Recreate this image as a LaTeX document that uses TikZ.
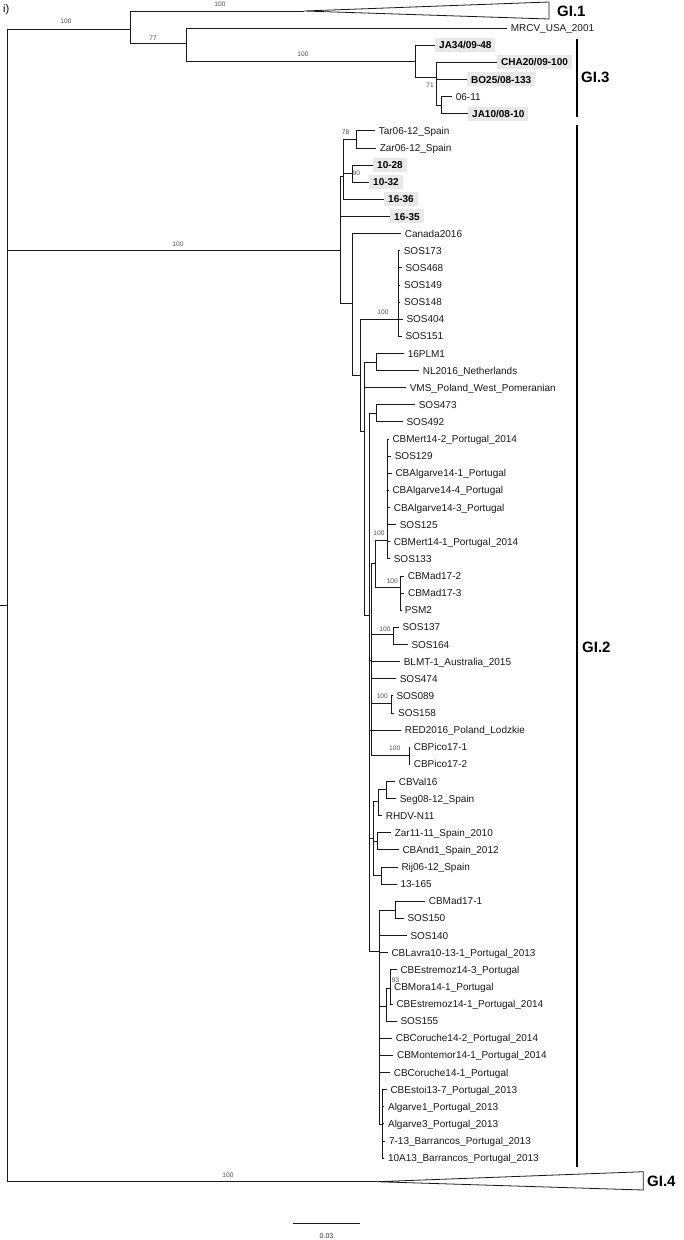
\documentclass[tikz,border=0pt]{standalone}
\usepackage{fontspec}
\setmainfont{Liberation Sans}
\begin{document}
\begin{tikzpicture}[x=1pt,y=-1pt,
  br/.style={line width=0.8pt, draw=black!90},
  bar/.style={line width=1.4pt, draw=black},
  leaf/.style={anchor=west, inner xsep=3.6pt, inner ysep=0pt, font=\fontsize{10}{12}\selectfont, text=black!90, text height=7.2pt, text depth=0pt},
  bleaf/.style={anchor=west, fill=black!9, inner xsep=4pt, inner ysep=3.4pt, font=\fontsize{10}{12}\selectfont\bfseries, text height=7.2pt, text depth=0pt},
  bs/.style={font=\fontsize{6.6}{7}\selectfont, text=black!70, inner sep=0pt},
  grp/.style={font=\fontsize{15}{18}\selectfont\bfseries, anchor=west, inner sep=0pt}]
\useasboundingbox (0,0) rectangle (684,1240);
\node[anchor=north west, inner sep=0pt, font=\fontsize{11}{13}\selectfont] (title) at (3,4) {i)};
% ---------- internal nodes ----------
\coordinate (r0s) at (0,605);
\coordinate (r0) at (7,605);
\coordinate (nA) at (130,29);
\coordinate (g1apex) at (304,11);
\coordinate (g1t) at (549,2);
\coordinate (g1b) at (549,19);
\coordinate (nC) at (186.5,43);
\coordinate (nD) at (415,61);
\coordinate (nE) at (436,77);
\coordinate (nF) at (441,105.5);
\coordinate (G) at (340.7,250);
\coordinate (H) at (343.3,176.7);
\coordinate (J) at (356.7,139.4);
\coordinate (K) at (352.7,173.6);
\coordinate (I) at (352.7,303);
\coordinate (L) at (360,375);
\coordinate (M) at (398.3,319);
\coordinate (P) at (364.3,431.7);
\coordinate (Q) at (376,361.9);
\coordinate (T) at (369,615);
\coordinate (R) at (376.7,413.3);
\coordinate (Z) at (371.7,660);
\coordinate (X) at (375,563);
\coordinate (V) at (387.3,540);
\coordinate (W) at (400.5,587);
\coordinate (Y) at (393.3,634);
\coordinate (S89) at (391.7,703);
\coordinate (CBP) at (409.3,755);
\coordinate (AD) at (373.3,838);
\coordinate (AA) at (378.7,801);
\coordinate (CBV) at (386,789.3);
\coordinate (AE) at (377.7,841.3);
\coordinate (AF) at (381.7,875.6);
\coordinate (AC) at (379,951.7);
\coordinate (AJ) at (395,910);
\coordinate (AG) at (386.7,1006);
\coordinate (AH) at (390,988);
\coordinate (AK) at (382.7,1124);
\coordinate (g4apex) at (376.7,1181.7);
\coordinate (g4t) at (643.3,1171.7);
\coordinate (g4b) at (643.3,1190);
% ---------- leaves ----------
\node[leaf] (mrcv) at (507,28.12) {MRCV\_USA\_2001};
\node[bleaf] (ja34) at (435,45.24) {JA34/09-48};
\node[bleaf] (cha20) at (497,62.36) {CHA20/09-100};
\node[bleaf] (bo25) at (467,79.48) {BO25/08-133};
\node[leaf] (n0611) at (452,96.6) {06-11};
\node[bleaf] (ja10) at (468,113.72) {JA10/08-10};
\node[leaf] (k7) at (375,130.84) {Tar06-12\_Spain};
\node[leaf] (k8) at (376,147.96) {Zar06-12\_Spain};
\node[bleaf] (k9) at (373,165.08) {10-28};
\node[bleaf] (k10) at (369,182.2) {10-32};
\node[bleaf] (k11) at (384,199.32) {16-36};
\node[bleaf] (k12) at (390,216.44) {16-35};
\node[leaf] (k13) at (401,233.56) {Canada2016};
\node[leaf] (k14) at (400,250.68) {SOS173};
\node[leaf] (k15) at (401.7,267.8) {SOS468};
\node[leaf] (k16) at (400.3,284.92) {SOS149};
\node[leaf] (k17) at (400.3,302.04) {SOS148};
\node[leaf] (k18) at (402.7,319.16) {SOS404};
\node[leaf] (k19) at (401.7,336.28) {SOS151};
\node[leaf] (k20) at (404,353.4) {16PLM1};
\node[leaf] (k21) at (419,370.52) {NL2016\_Netherlands};
\node[leaf] (k22) at (406,387.64) {VMS\_Poland\_West\_Pomeranian};
\node[leaf] (k23) at (415,404.76) {SOS473};
\node[leaf] (k24) at (402.7,421.88) {SOS492};
\node[leaf] (k25) at (388.7,439) {CBMert14-2\_Portugal\_2014};
\node[leaf] (k26) at (391,456.12) {SOS129};
\node[leaf] (k27) at (391.7,473.24) {CBAlgarve14-1\_Portugal};
\node[leaf] (k28) at (388.7,490.36) {CBAlgarve14-4\_Portugal};
\node[leaf] (k29) at (390,507.48) {CBAlgarve14-3\_Portugal};
\node[leaf] (k30) at (396,524.6) {SOS125};
\node[leaf] (k31) at (390,541.72) {CBMert14-1\_Portugal\_2014};
\node[leaf] (k32) at (390,558.84) {SOS133};
\node[leaf] (k33) at (404,575.96) {CBMad17-2};
\node[leaf] (k34) at (404.3,593.08) {CBMad17-3};
\node[leaf] (k35) at (401,610.2) {PSM2};
\node[leaf] (k36) at (398.7,627.32) {SOS137};
\node[leaf] (k37) at (407.7,644.44) {SOS164};
\node[leaf] (k38) at (400,661.56) {BLMT-1\_Australia\_2015};
\node[leaf] (k39) at (396,678.68) {SOS474};
\node[leaf] (k40) at (392.7,695.8) {SOS089};
\node[leaf] (k41) at (394.3,712.92) {SOS158};
\node[leaf] (k42) at (401,730.04) {RED2016\_Poland\_Lodzkie};
\node[leaf] (k43) at (410,747.16) {CBPico17-1};
\node[leaf] (k44) at (410,764.28) {CBPico17-2};
\node[leaf] (k45) at (395,781.4) {CBVal16};
\node[leaf] (k46) at (396,798.52) {Seg08-12\_Spain};
\node[leaf] (k47) at (382,815.64) {RHDV-N11};
\node[leaf] (k48) at (391,832.76) {Zar11-11\_Spain\_2010};
\node[leaf] (k49) at (398.7,849.88) {CBAnd1\_Spain\_2012};
\node[leaf] (k50) at (397.7,867) {Rij06-12\_Spain};
\node[leaf] (k51) at (396.7,884.12) {13-165};
\node[leaf] (k52) at (425,901.24) {CBMad17-1};
\node[leaf] (k53) at (403.7,918.36) {SOS150};
\node[leaf] (k54) at (406.7,935.48) {SOS140};
\node[leaf] (k55) at (387.7,952.6) {CBLavra10-13-1\_Portugal\_2013};
\node[leaf] (k56) at (396.7,969.72) {CBEstremoz14-3\_Portugal};
\node[leaf] (k57) at (390.3,986.84) {CBMora14-1\_Portugal};
\node[leaf] (k58) at (392.7,1003.96) {CBEstremoz14-1\_Portugal\_2014};
\node[leaf] (k59) at (396.7,1021.08) {SOS155};
\node[leaf] (k60) at (392,1038.2) {CBCoruche14-2\_Portugal\_2014};
\node[leaf] (k61) at (393.3,1055.32) {CBMontemor14-1\_Portugal\_2014};
\node[leaf] (k62) at (390,1072.44) {CBCoruche14-1\_Portugal};
\node[leaf] (k63) at (386.7,1089.56) {CBEstoi13-7\_Portugal\_2013};
\node[leaf] (k64) at (384.3,1106.68) {Algarve1\_Portugal\_2013};
\node[leaf] (k65) at (384.3,1123.8) {Algarve3\_Portugal\_2013};
\node[leaf] (k66) at (385.3,1140.92) {7-13\_Barrancos\_Portugal\_2013};
\node[leaf] (k67) at (384.3,1158.04) {10A13\_Barrancos\_Portugal\_2013};
% ---------- branches ----------
\draw[br] (r0s) -- (r0);
\draw[br] (r0) |- (nA);
\draw[br] (r0) |- (G);
\draw[br] (r0) |- (g4apex);
\draw[br] (nA) |- (g1apex);
\draw[br] (g1apex) -- (g1t) -- (g1b) -- cycle;
\draw[br] (g4apex) -- (g4t) -- (g4b) -- cycle;
\draw[br] (nA) |- (nC);
\draw[br] (nC) |- (mrcv.west);
\draw[br] (nC) |- (nD);
\draw[br] (nD) |- (ja34.west);
\draw[br] (nD) |- (nE);
\draw[br] (nE) |- (cha20.west);
\draw[br] (nE) |- (bo25.west);
\draw[br] (nE) |- (nF);
\draw[br] (nF) |- (n0611.west);
\draw[br] (nF) |- (ja10.west);
\draw[br] (G) |- (H);
\draw[br] (G) |- (k12.west);
\draw[br] (G) |- (I);
\draw[br] (H) |- (J);
\draw[br] (H) |- (K);
\draw[br] (H) |- (k11.west);
\foreach \c in {k7,k8} \draw[br] (J) |- (\c.west);
\foreach \c in {k9,k10} \draw[br] (K) |- (\c.west);
\draw[br] (I) |- (k13.west);
\draw[br] (I) |- (L);
\draw[br] (L) |- (M);
\draw[br] (L) |- (P);
\foreach \c in {k14,k15,k16,k17,k18,k19} \draw[br] (M) |- (\c.west);
\draw[br] (P) |- (Q);
\draw[br] (P) |- (k22.west);
\draw[br] (P) |- (T);
\foreach \c in {k20,k21} \draw[br] (Q) |- (\c.west);
\draw[br] (T) |- (R);
\draw[br] (T) |- (Z);
\draw[br] (T) |- (k42.west);
\draw[br] (T) |- (AD);
\draw[br] (T) |- (AC);
\foreach \c in {k23,k24} \draw[br] (R) |- (\c.west);
\draw[br] (Z) |- (X);
\draw[br] (Z) |- (Y);
\draw[br] (Z) |- (S89);
\draw[br] (Z) |- (CBP);
\foreach \c in {k38,k39} \draw[br] (Z) |- (\c.west);
\draw[br] (X) |- (V);
\draw[br] (X) |- (W);
\foreach \c in {k25,k26,k27,k28,k29,k30,k31,k32} \draw[br] (V) |- (\c.west);
\foreach \c in {k33,k34,k35} \draw[br] (W) |- (\c.west);
\foreach \c in {k36,k37} \draw[br] (Y) |- (\c.west);
\foreach \c in {k40,k41} \draw[br] (S89) |- (\c.west);
\foreach \c in {k43,k44} \draw[br] (CBP) |- (\c.west);
\draw[br] (AD) |- (AA);
\draw[br] (AD) |- (AE);
\draw[br] (AD) |- (AF);
\draw[br] (AA) |- (CBV);
\draw[br] (AA) |- (k47.west);
\foreach \c in {k45,k46} \draw[br] (CBV) |- (\c.west);
\foreach \c in {k48,k49} \draw[br] (AE) |- (\c.west);
\foreach \c in {k50,k51} \draw[br] (AF) |- (\c.west);
\draw[br] (AC) |- (AJ);
\draw[br] (AC) |- (AG);
\draw[br] (AC) |- (AK);
\foreach \c in {k54,k55,k60,k61,k62} \draw[br] (AC) |- (\c.west);
\foreach \c in {k52,k53} \draw[br] (AJ) |- (\c.west);
\draw[br] (AG) |- (AH);
\draw[br] (AG) |- (k59.west);
\foreach \c in {k56,k57,k58} \draw[br] (AH) |- (\c.west);
\foreach \c in {k63,k64,k65,k66,k67} \draw[br] (AK) |- (\c.west);
% ---------- support values ----------
\node[bs] (s1) at (66,21) {100};
\node[bs] (s2) at (220,4.5) {100};
\node[bs] (s3) at (153,38.3) {77};
\node[bs] (s4) at (303,54.3) {100};
\node[bs] (s5) at (430,85.7) {71};
\node[bs] (s6) at (178,244) {100};
\node[bs] (s7) at (345.5,132.7) {78};
\node[bs] (s8) at (356.3,173.3) {90};
\node[bs] (s9) at (383,312.3) {100};
\node[bs] (s10) at (379,533.3) {100};
\node[bs] (s11) at (392.3,581) {100};
\node[bs] (s12) at (385,629) {100};
\node[bs] (s13) at (382.3,696.7) {100};
\node[bs] (s14) at (394.7,748.3) {100};
\node[bs] (s15) at (395.5,980) {93};
\node[bs] (s16) at (228,1175) {100};
% ---------- group bars ----------
\coordinate (b3t) at (577,39);
\coordinate (b3b) at (577,117);
\coordinate (b2t) at (577,125);
\coordinate (b2b) at (577,1166.7);
\draw[bar] (b3t) -- (b3b);
\draw[bar] (b2t) -- (b2b);
\node[grp] (gi1) at (557,11) {GI.1};
\node[grp] (gi3) at (581,77) {GI.3};
\node[grp] (gi2) at (582,647) {GI.2};
\node[grp] (gi4) at (647,1181.7) {GI.4};
% ---------- scale bar ----------
\coordinate (sb1) at (293,1223.3);
\coordinate (sb2) at (360,1223.3);
\draw[br] (sb1) -- (sb2);
\node[font=\fontsize{7}{8}\selectfont, inner sep=0pt, text=black!80] (sbl) at (326.5,1236) {0.03};
\end{tikzpicture}
\end{document}
